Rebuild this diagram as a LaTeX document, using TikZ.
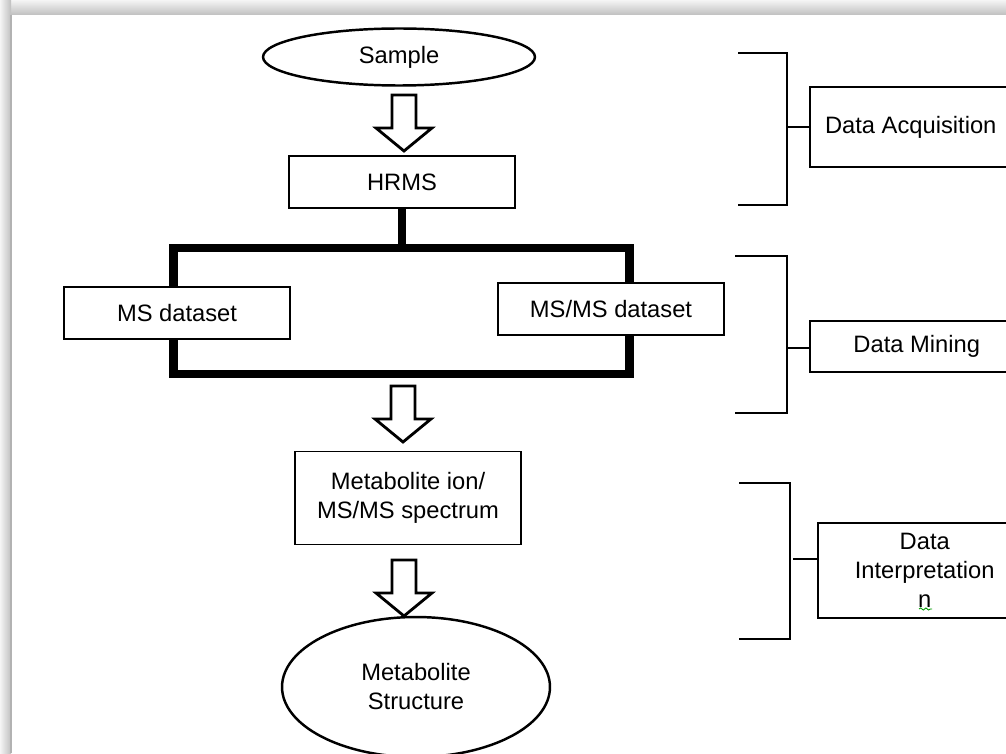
\documentclass[tikz,border=0pt]{standalone}
\usepackage{fontspec}
\setmainfont{Liberation Sans}
\usetikzlibrary{shapes.geometric,positioning,calc,decorations.pathmorphing}

\begin{document}
\begin{tikzpicture}[x=0.02cm, y=-0.02cm,
				      every node/.style={align=center, font=\fontsize{13.5}{16.5}\selectfont},
				      stepBox/.style={
						      draw, rectangle, fill=white, line width=1.1pt,
						      minimum width=4.52cm, minimum height=1.03cm,
						      inner sep=0pt
					      },
				      stageBox/.style={
						      draw, rectangle, fill=white, line width=0.85pt,
						      inner sep=0pt, anchor=west
					      },
				      roundVertex/.style={
						      draw, ellipse, fill=white, line width=1.4pt,
						      inner sep=0pt
					      },
				      mainFrame/.style={line width=5.1pt, line join=miter},
				      bracketLine/.style={line width=1.6pt, line join=miter},
				      tickLine/.style={line width=1.5pt},
				      hollowArrow/.pic={
						      \draw[line width=1.6pt, fill=white, line join=miter]
						      (-12,-28) -- (12,-28) -- (12,5) -- (28,5) -- (0,28)
						      -- (-28,5) -- (-12,5) -- cycle;
					      }
			      ]

			      \useasboundingbox (0,0) rectangle (1006,753);
			      \clip (0,0) rectangle (1006,753);

			      % page shadow
			      \shade[top color=gray!8, bottom color=gray!50] (0,0) rectangle (1006,15);
			      \shade[left color=gray!8, right color=gray!50] (0,0) rectangle (11,753);
			      \fill[white] (11,15) rectangle (1006,753);
			      \draw[gray!60, line width=0.6pt] (11,15) -- (11,753);

			      % thick frame between the datasets
			      \coordinate (FTL) at (173.5,248);
			      \coordinate (FBR) at (629.5,374);
			      \draw[mainFrame] (FTL) rectangle (FBR);

			      % left column
			      \node[roundVertex, minimum width=5.44cm, minimum height=1.14cm] (S) at (399,57) {Sample};
			      \node[stepBox] (H) at (402,182) {HRMS};
			      \node[stepBox] (M1) at (177,313) {MS dataset};
			      \node[stepBox] (M2) at (611,309) {MS/MS dataset};
			      \node[stepBox, minimum height=1.86cm] (I) at (408,498) {Metabolite ion/\\MS/MS spectrum};
			      \node[roundVertex, minimum width=5.36cm, minimum height=2.8cm] (T) at (416,687) {Metabolite\\Structure};

			      \draw[mainFrame] (H.south) -- (H.south |- FTL);

			      \pic at (404,123) {hollowArrow};
			      \pic at (403,414) {hollowArrow};
			      \pic at (404,588) {hollowArrow};

			      % right column
			      \node[stageBox, minimum width=4.04cm, minimum height=1.6cm] (DA) at (809,127) {Data Acquisition};
			      \node[stageBox, minimum width=4.28cm, minimum height=1.02cm] (DM) at (809,346.5) {Data Mining};
			      \node[stageBox, minimum width=4.28cm, minimum height=1.9cm] (DI) at (817,570.5) {Data\\Interpretation\\n};

			      \coordinate (B1) at (787,53);
			      \coordinate (B2) at (787,256);
			      \coordinate (B3) at (790,483);
			      \draw[bracketLine] (738,53) -- (B1) -- (787,205) -- (738,205);
			      \draw[bracketLine] (735,256) -- (B2) -- (787,413) -- (735,413);
			      \draw[bracketLine] (739,483) -- (B3) -- (790,639) -- (739,639);
			      \draw[tickLine] (787,127) -- (DA.west);
			      \draw[tickLine] (787,348) -- (DM.west |- 0,348);
			      \draw[tickLine] (793,559) -- (DI.west |- 0,559);

			      % spell-check squiggle
			      \draw[green!60!black, line width=0.5pt, decorate,
				      decoration={snake, amplitude=0.6pt, segment length=3pt}]
			      (919,609) -- (932,609);
		      \end{tikzpicture}
\end{document}
